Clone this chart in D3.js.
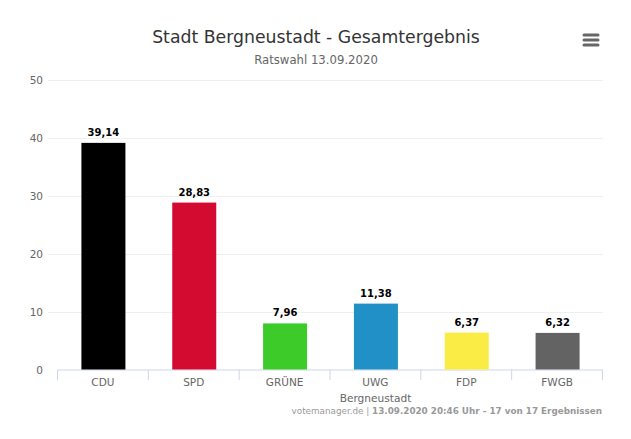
<!DOCTYPE html>
<html>
<head>
<meta charset="utf-8">
<style>
  html, body { margin: 0; padding: 0; background: #fff; }
  text { font-family: "DejaVu Sans", sans-serif; }
</style>
<script src="https://cdn.jsdelivr.net/npm/d3@7"></script>
</head>
<body>
<svg id="chart" width="631" height="439"></svg>
<script>
var parties = ["CDU", "SPD", "GRÜNE", "UWG", "FDP", "FWGB"];
var results = [39.14, 28.83, 7.96, 11.38, 6.37, 6.32];
var barColors = ["#000000", "#d40b31", "#3ccb28", "#2190c6", "#fbec45", "#636363"];
var yTicks = [0, 10, 20, 30, 40, 50];

var svg = d3.select("#chart");

var x = d3.scaleBand().domain(parties).range([57.5, 602.5]).paddingInner(0).paddingOuter(0);
var y = d3.scaleLinear().domain([0, 50]).range([369.5, 80]);
var barWidth = 44;

// grid lines
svg.append("g").selectAll("line").data(yTicks.slice(1)).join("line")
  .attr("x1", 48).attr("x2", 603)
  .attr("y1", d => Math.round(y(d)) + 0.5).attr("y2", d => Math.round(y(d)) + 0.5)
  .attr("stroke", "#efefef");

// y labels
svg.append("g").selectAll("text").data(yTicks).join("text")
  .attr("x", 43).attr("y", d => y(d) + 4)
  .attr("text-anchor", "end")
  .attr("font-size", 10.5).attr("fill", "#666")
  .text(d => d);

// x axis
var axis = d3.axisBottom(x).tickSize(0).tickPadding(9);
var gx = svg.append("g").attr("transform", "translate(0,369.5)").call(axis);
gx.select(".domain").attr("stroke", "#ccd6eb");
gx.selectAll("text").attr("font-size", 10.5).attr("fill", "#666").attr("font-family", "DejaVu Sans");

// tick marks sit between the categories
var edges = parties.map(d => x(d)).concat([x.range()[1]]);
svg.append("g").selectAll("line").data(edges).join("line")
  .attr("x1", d => d).attr("x2", d => d)
  .attr("y1", 369.5).attr("y2", 380)
  .attr("stroke", "#ccd6eb");

// bars
svg.append("g").selectAll("rect").data(results).join("rect")
  .attr("x", (d, i) => x(parties[i]) + x.bandwidth() / 2 - barWidth / 2 + 0.5)
  .attr("y", d => y(d))
  .attr("width", barWidth)
  .attr("height", d => y(0) - y(d))
  .attr("fill", (d, i) => barColors[i]);

// value labels
svg.append("g").selectAll("text").data(results).join("text")
  .attr("x", (d, i) => x(parties[i]) + x.bandwidth() / 2 + 0.5)
  .attr("y", d => y(d) - 7)
  .attr("text-anchor", "middle")
  .attr("font-size", 10).attr("font-weight", "bold").attr("fill", "#000")
  .text(d => d.toFixed(2).replace(".", ","));

// titles
svg.append("text").attr("x", 316).attr("y", 43).attr("text-anchor", "middle")
  .attr("font-size", 17.3).attr("fill", "#333").text("Stadt Bergneustadt - Gesamtergebnis");
svg.append("text").attr("x", 316).attr("y", 64).attr("text-anchor", "middle")
  .attr("font-size", 11.7).attr("fill", "#666").text("Ratswahl 13.09.2020");
svg.append("text").attr("x", 375.5).attr("y", 402).attr("text-anchor", "middle")
  .attr("font-size", 10.6).attr("fill", "#666").text("Bergneustadt");
svg.append("text").attr("x", 602).attr("y", 414).attr("text-anchor", "end")
  .attr("font-size", 8.8).attr("fill", "#999")
  .text("votemanager.de | ")
  .append("tspan").attr("font-weight", "bold").text("13.09.2020 20:46 Uhr - 17 von 17 Ergebnissen");

// menu icon
svg.append("g").selectAll("line").data([35, 40, 45]).join("line")
  .attr("x1", 584).attr("x2", 598)
  .attr("y1", d => d).attr("y2", d => d)
  .attr("stroke", "#666").attr("stroke-width", 3).attr("stroke-linecap", "round");
</script>
</body>
</html>
